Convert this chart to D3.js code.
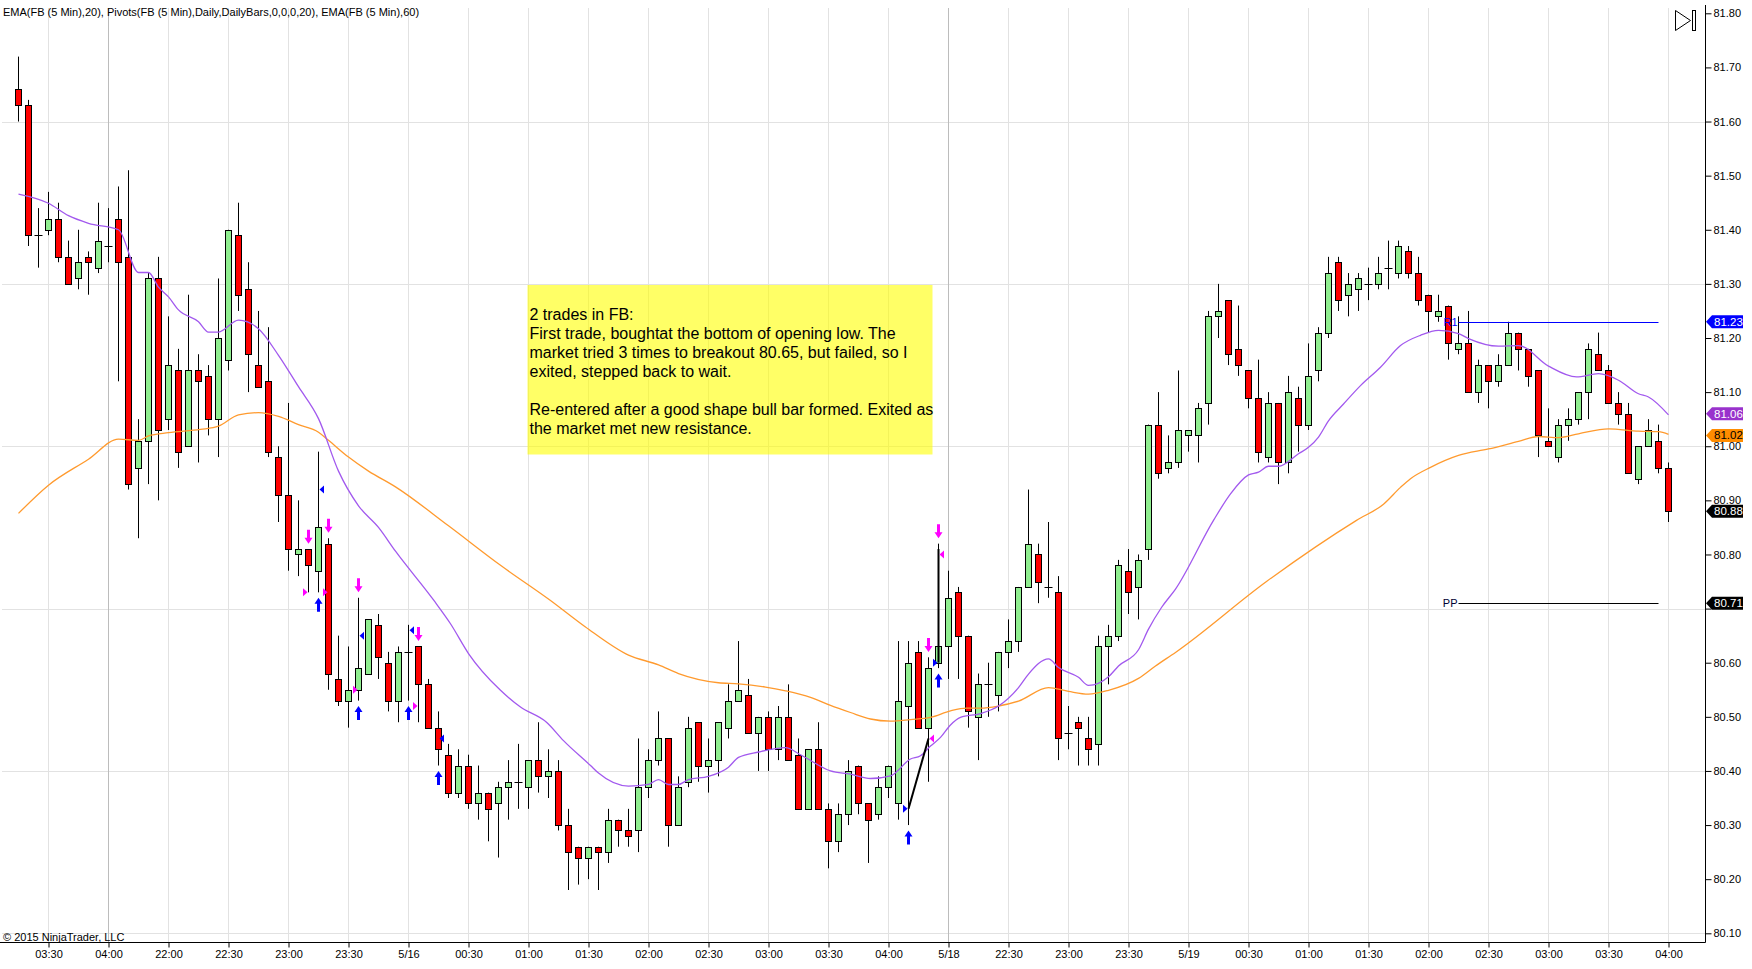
<!DOCTYPE html>
<html>
<head>
<meta charset="utf-8">
<script src="https://cdn.jsdelivr.net/npm/d3@7"></script>
<style>
  body { margin: 0; background: #fff; }
  svg { display: block; font-family: "Liberation Sans", Arial, sans-serif; }
</style>
</head>
<body>
<div id="chart"></div>
<script>
// ── FB 5 min candles, NinjaTrader style ──
const opens = [81.66,81.63,81.39,81.40,81.42,81.35,81.31,81.35,81.33,81.37,
  81.42,81.35,80.96,81.01,81.31,81.05,81.14,81.00,81.14,81.13,
  81.05,81.16,81.39,81.29,81.15,81.12,80.98,80.91,80.80,80.81,
  80.77,80.82,80.57,80.53,80.55,80.58,80.67,80.60,80.53,80.62,
  80.63,80.56,80.48,80.43,80.36,80.41,80.34,80.36,80.34,80.37,
  80.38,80.37,80.42,80.39,80.40,80.30,80.26,80.24,80.26,80.25,
  80.31,80.29,80.29,80.37,80.42,80.46,80.30,80.38,80.49,80.41,
  80.42,80.48,80.53,80.54,80.47,80.50,80.44,80.50,80.43,80.33,
  80.44,80.33,80.27,80.32,80.41,80.34,80.32,80.37,80.34,80.52,
  80.62,80.48,80.60,80.63,80.73,80.65,80.50,80.56,80.54,80.62,
  80.64,80.74,80.80,80.74,80.73,80.47,80.49,80.46,80.45,80.63,
  80.65,80.77,80.74,80.81,81.04,80.96,80.97,81.02,81.02,81.08,
  81.24,81.27,81.18,81.14,81.09,80.98,81.08,80.97,81.09,81.04,
  81.14,81.21,81.34,81.28,81.29,81.30,81.30,81.33,81.32,81.36,
  81.32,81.28,81.24,81.26,81.18,81.19,81.10,81.15,81.12,81.15,
  81.21,81.18,81.14,81.01,80.98,81.04,81.05,81.10,81.17,81.14,
  81.08,81.06,80.94,81.00,81.01,80.96];
const highs = [81.72,81.64,81.44,81.47,81.45,81.38,81.40,81.36,81.45,81.44,
  81.48,81.51,81.05,81.32,81.35,81.24,81.18,81.28,81.17,81.15,
  81.31,81.40,81.45,81.34,81.25,81.22,81.00,81.08,80.90,80.81,
  80.99,80.83,80.65,80.63,80.72,80.68,80.69,80.62,80.63,80.67,
  80.63,80.57,80.51,80.45,80.44,80.43,80.41,80.36,80.38,80.42,
  80.45,80.42,80.49,80.44,80.42,80.33,80.26,80.26,80.26,80.33,
  80.31,80.33,80.46,80.44,80.51,80.46,80.39,80.50,80.49,80.46,
  80.49,80.56,80.64,80.57,80.50,80.51,80.52,80.56,80.46,80.44,
  80.49,80.34,80.34,80.42,80.41,80.34,80.39,80.41,80.64,80.64,
  80.64,80.61,80.82,80.77,80.74,80.65,80.58,80.60,80.62,80.68,
  80.74,80.92,80.82,80.86,80.76,80.52,80.50,80.50,80.65,80.67,
  80.79,80.81,80.80,81.04,81.10,81.02,81.14,81.03,81.08,81.25,
  81.30,81.27,81.26,81.14,81.16,81.10,81.08,81.13,81.11,81.19,
  81.22,81.35,81.35,81.32,81.32,81.33,81.35,81.38,81.38,81.37,
  81.35,81.28,81.28,81.26,81.24,81.25,81.16,81.15,81.17,81.23,
  81.21,81.18,81.14,81.07,81.05,81.07,81.10,81.19,81.21,81.15,
  81.10,81.08,81.00,81.05,81.04,80.97];
const lows = [81.60,81.37,81.33,81.39,81.34,81.30,81.29,81.28,81.32,81.34,
  81.12,80.92,80.83,80.93,80.90,81.03,80.96,81.00,80.97,81.02,
  80.98,81.14,81.25,81.10,81.11,80.98,80.86,80.77,80.76,80.73,
  80.73,80.55,80.52,80.48,80.53,80.58,80.57,80.51,80.49,80.53,
  80.49,80.48,80.41,80.35,80.35,80.33,80.31,80.27,80.24,80.31,
  80.33,80.33,80.36,80.35,80.29,80.18,80.19,80.20,80.18,80.23,
  80.26,80.26,80.25,80.35,80.41,80.26,80.30,80.37,80.38,80.36,
  80.39,80.46,80.53,80.47,80.40,80.40,80.42,80.42,80.33,80.33,
  80.33,80.22,80.25,80.30,80.32,80.23,80.31,80.35,80.31,80.30,
  80.48,80.38,80.59,80.57,80.57,80.48,80.42,80.50,80.51,80.59,
  80.62,80.74,80.71,80.72,80.42,80.44,80.41,80.41,80.41,80.56,
  80.64,80.69,80.68,80.79,80.94,80.95,80.96,80.99,80.97,81.04,
  81.20,81.15,81.13,81.07,80.97,80.97,80.93,80.95,80.99,81.03,
  81.12,81.20,81.25,81.24,81.25,81.27,81.29,81.29,81.31,81.31,
  81.26,81.21,81.23,81.16,81.17,81.10,81.08,81.07,81.11,81.15,
  81.14,81.11,80.98,81.00,80.97,81.01,81.04,81.05,81.14,81.08,
  81.04,80.95,80.93,81.00,80.95,80.86];
const closes = [81.63,81.39,81.39,81.42,81.35,81.30,81.34,81.34,81.38,81.37,
  81.34,80.93,81.01,81.31,81.03,81.15,80.99,81.14,81.12,81.05,
  81.20,81.40,81.28,81.17,81.11,80.99,80.91,80.81,80.81,80.78,
  80.85,80.58,80.53,80.55,80.59,80.68,80.61,80.53,80.62,80.62,
  80.56,80.48,80.44,80.36,80.41,80.34,80.36,80.33,80.37,80.38,
  80.38,80.42,80.39,80.40,80.30,80.25,80.24,80.26,80.25,80.31,
  80.29,80.28,80.37,80.42,80.46,80.30,80.37,80.48,80.41,80.42,
  80.49,80.53,80.55,80.47,80.50,80.44,80.50,80.42,80.33,80.44,
  80.33,80.27,80.32,80.40,80.34,80.31,80.37,80.41,80.53,80.60,
  80.48,80.59,80.63,80.72,80.65,80.51,80.56,80.56,80.62,80.64,
  80.74,80.82,80.75,80.74,80.46,80.47,80.48,80.44,80.63,80.65,
  80.78,80.73,80.79,81.04,80.95,80.97,81.03,81.03,81.07,81.24,
  81.25,81.17,81.15,81.09,80.99,81.08,80.97,81.10,81.04,81.13,
  81.21,81.32,81.27,81.30,81.31,81.30,81.32,81.33,81.37,81.32,
  81.27,81.25,81.25,81.19,81.19,81.10,81.15,81.12,81.15,81.21,
  81.18,81.13,81.02,81.00,81.04,81.05,81.10,81.18,81.14,81.08,
  81.06,80.95,81.00,81.03,80.96,80.88];

// EMA(20) and EMA(60) at bar positions
const ema20Bars = [0,3,5,7,10,12,13,14,15,16,18,19,20,22,24,26,28,30,32,34,36,37.7,
  41.5,43.2,45,48.2,50.2,52.8,54.5,57.2,58,61,63,64,65,66,67,69,71,72,74,76.7,
  78.2,81.2,83.2,85.2,87.2,89.2,90.2,91.2,92.2,93.2,94.2,96.2,98,100,101,103,104,
  106,107,109,110,112,113,114.3,115.7,119.5,121.2,123,124,125,126,128,129,130,131,
  132.5,134.2,136.2,138.2,140.2,142,144,145,148,150,153,155.8,158,160,162,163,165];
const ema20Vals = [81.466,81.449,81.426,81.412,81.400,81.321,81.321,81.294,81.276,81.252,81.230,81.211,81.211,81.233,81.217,81.168,81.110,81.051,80.954,80.890,80.850,80.806,
  80.716,80.672,80.617,80.549,80.518,80.490,80.456,80.410,80.396,80.372,80.375,80.384,80.375,80.375,80.384,80.390,80.407,80.425,80.435,80.443,
  80.430,80.400,80.394,80.386,80.391,80.422,80.428,80.446,80.462,80.485,80.499,80.506,80.520,80.554,80.579,80.607,80.591,
  80.573,80.558,80.574,80.594,80.624,80.662,80.702,80.736,80.863,80.912,80.947,80.952,80.963,80.963,80.986,80.998,81.017,81.047,
  81.078,81.112,81.146,81.186,81.205,81.214,81.208,81.199,81.185,81.186,81.148,81.128,81.134,81.122,81.097,81.091,81.058];
const ema60Bars = [0,3,7,10,12,13,15,18.2,20,22,24,26,28,30,31,33,35,37.7,43,48.2,53.2,
  56.7,61,64,66,70,72,74.7,76.7,79.2,81.2,83.2,85.2,87.2,89.2,91.2,93.2,94.8,96.2,98,100,
  103,105,107,109,112,113.7,115.7,124.8,133.8,136.5,138.2,139.2,141.2,144,147,150,152,154,156,
  159,162,164,165];
const ema60Vals = [80.876,80.928,80.976,81.013,81.011,81.019,81.025,81.031,81.037,81.058,81.062,81.055,81.040,81.026,81.011,80.980,80.954,80.925,80.853,80.780,80.715,
  80.666,80.614,80.596,80.580,80.563,80.561,80.555,80.548,80.536,80.521,80.508,80.496,80.492,80.495,80.499,80.511,80.516,80.516,80.520,80.529,
  80.554,80.547,80.542,80.549,80.571,80.594,80.619,80.750,80.863,80.893,80.924,80.940,80.961,80.983,80.995,81.009,81.018,81.016,81.023,
  81.032,81.028,81.027,81.022];

// time axis labels (one every 6 bars, from bar 3)
const timeLabels = ["03:30","04:00","22:00","22:30","23:00","23:30","5/16","00:30","01:00","01:30",
  "02:00","02:30","03:00","03:30","04:00","5/18","22:30","23:00","23:30","5/19",
  "00:30","01:00","01:30","02:00","02:30","03:00","03:30","04:00"];
const sessionBreakTicks = [1, 15];

// pivots
const pivotNames = ["R1","PP"];
const pivotVals  = [81.23, 80.71];
const pivotFrom  = 144, pivotTo = 164;

// executions
const buyArrowBars    = [30, 34, 39, 42, 89, 92];
const buyArrowPrices  = [80.72, 80.52, 80.52, 80.40, 80.29, 80.58];
const sellArrowBars   = [29, 31, 34, 40, 91, 92];
const sellArrowPrices = [80.82, 80.84, 80.73, 80.64, 80.62, 80.83];
const buyFillBars     = [30, 34, 39, 42, 89, 92];
const buyFillPrices   = [80.92, 80.65, 80.66, 80.46, 80.33, 80.60];
const buyFillSide     = ["r","r","r","r","l","l"];
const sellFillBars    = [29, 31, 34, 40, 91, 92];
const sellFillPrices  = [80.73, 80.73, 80.55, 80.52, 80.46, 80.80];
const sellFillSide    = ["l","l","l","l","r","r"];
const tradeFromBars = [89, 92], tradeFromPrices = [80.33, 80.60];
const tradeToBars   = [91, 92], tradeToPrices   = [80.46, 80.81];

// right axis price markers
const markerVals = [81.23, 81.06, 81.02, 80.88, 80.71];

const noteLines = ["2 trades in FB:",
  "First trade, boughtat the bottom of opening low. The",
  "market tried 3 times to breakout 80.65, but failed, so I",
  "exited, stepped back to wait.",
  "",
  "Re-entered after a good shape bull bar formed. Exited as",
  "the market met new resistance."];

// ─────────────────────────────────────────────
const W = 1752, H = 969;
const axisX = 1705.5, axisY = 942.5;
const nBars = opens.length;

const svg = d3.select("#chart").append("svg")
  .attr("width", W).attr("height", H).attr("viewBox", `0 0 ${W} ${H}`);
svg.append("rect").attr("width", W).attr("height", H).attr("fill", "#fff");

const x = d3.scaleLinear().domain([0, nBars - 1]).range([18.5, 1668.5]);
const y = d3.scaleLinear().domain([80.10, 81.80]).range([933.3, 13.3]);
const py = v => Math.round(y(v)) + 0.5;

const tickBars = timeLabels.map((d, k) => 3 + 6 * k);
const gridPrices = [80.10, 80.40, 80.70, 81.00, 81.30, 81.60];
const priceTicks = d3.range(0, 18).map(k => +(80.10 + k * 0.1).toFixed(2));

// Gridlines
const grid = svg.append("g");
grid.selectAll("line.h").data(gridPrices).join("line").attr("class","h")
  .attr("x1", 2).attr("x2", axisX).attr("y1", d => py(d)).attr("y2", d => py(d))
  .attr("stroke", "#e2e2e2");
grid.selectAll("line.v").data(tickBars).join("line").attr("class","v")
  .attr("x1", d => x(d)).attr("x2", d => x(d)).attr("y1", 8).attr("y2", axisY)
  .attr("stroke", (d, k) => sessionBreakTicks.includes(k) ? "#bcbcbc" : "#e2e2e2");

// Note box (translucent yellow)
svg.append("rect").attr("x", 527.5).attr("y", 285).attr("width", 405).attr("height", 169.5)
  .attr("fill", "#ffff00").attr("fill-opacity", 0.6);
svg.append("g").selectAll("text").data(noteLines).join("text")
  .attr("x", 529.5).attr("y", (d, i) => 320 + i * 19)
  .style("font-size", "16px").style("fill", "#000")
  .text(d => d);

// Candles
const candles = svg.append("g");
const bars = d3.range(nBars);
candles.selectAll("line.wick").data(bars).join("line").attr("class","wick")
  .attr("x1", i => x(i)).attr("x2", i => x(i))
  .attr("y1", i => y(highs[i])).attr("y2", i => y(lows[i]))
  .attr("stroke", "#000").attr("stroke-width", 1);
candles.selectAll("rect.body").data(bars.filter(i => opens[i] !== closes[i])).join("rect").attr("class","body")
  .attr("x", i => x(i) - 3)
  .attr("y", i => py(Math.max(opens[i], closes[i])))
  .attr("width", 6)
  .attr("height", i => Math.max(1, py(Math.min(opens[i], closes[i])) - py(Math.max(opens[i], closes[i]))))
  .attr("fill", i => closes[i] > opens[i] ? "#90ee90" : "#ff0000")
  .attr("stroke", "#000").attr("stroke-width", 1);
candles.selectAll("line.doji").data(bars.filter(i => opens[i] === closes[i])).join("line").attr("class","doji")
  .attr("x1", i => x(i) - 4).attr("x2", i => x(i) + 4)
  .attr("y1", i => py(opens[i])).attr("y2", i => py(opens[i]))
  .attr("stroke", "#000").attr("stroke-width", 1);

// EMAs
const emaLine = d3.line().x(d => x(d[0])).y(d => y(d[1])).curve(d3.curveMonotoneX);
svg.append("path").datum(ema60Bars.map((b, k) => [b, ema60Vals[k]]))
  .attr("d", emaLine).attr("fill", "none").attr("stroke", "#ff9a2e").attr("stroke-width", 1.3);
svg.append("path").datum(ema20Bars.map((b, k) => [b, ema20Vals[k]]))
  .attr("d", emaLine).attr("fill", "none").attr("stroke", "#a259ee").attr("stroke-width", 1.3);

// Pivots
const pivColors = ["#0000ff", "#000000"];
const piv = svg.append("g");
piv.selectAll("line").data(pivotVals).join("line")
  .attr("x1", x(pivotFrom)).attr("x2", x(pivotTo))
  .attr("y1", d => py(d)).attr("y2", d => py(d))
  .attr("stroke", (d, k) => pivColors[k]);
piv.selectAll("text").data(pivotNames).join("text")
  .attr("x", x(pivotFrom) - 1).attr("y", (d, k) => y(pivotVals[k]) + 4)
  .attr("text-anchor", "end").style("font-size", "11px")
  .style("fill", (d, k) => k === 0 ? "#0000ff" : "#000033")
  .text(d => d);

// Trade connection lines
svg.append("g").selectAll("line").data(tradeFromBars).join("line")
  .attr("x1", (d, k) => x(d)).attr("y1", (d, k) => y(tradeFromPrices[k]))
  .attr("x2", (d, k) => x(tradeToBars[k])).attr("y2", (d, k) => y(tradeToPrices[k]))
  .attr("stroke", "#000").attr("stroke-width", 2);

// Arrows
const upArrow = (cx, ty) => `M${cx},${ty} L${cx+4},${ty+6} L${cx+1.5},${ty+6} L${cx+1.5},${ty+14} L${cx-1.5},${ty+14} L${cx-1.5},${ty+6} L${cx-4},${ty+6} Z`;
const downArrow = (cx, by) => `M${cx},${by} L${cx+4},${by-6} L${cx+1.5},${by-6} L${cx+1.5},${by-14} L${cx-1.5},${by-14} L${cx-1.5},${by-6} L${cx-4},${by-6} Z`;
const tri = (cx, cy, side) => side === "r"
  ? `M${cx+1},${cy} L${cx+5.5},${cy-4} L${cx+5.5},${cy+4} Z`
  : `M${cx-1},${cy} L${cx-5.5},${cy-4} L${cx-5.5},${cy+4} Z`;
const marks = svg.append("g");
marks.selectAll("path.buyA").data(buyArrowBars).join("path").attr("class","buyA")
  .attr("d", (d, k) => upArrow(x(d), y(buyArrowPrices[k]))).attr("fill", "#0000ff");
marks.selectAll("path.sellA").data(sellArrowBars).join("path").attr("class","sellA")
  .attr("d", (d, k) => downArrow(x(d), y(sellArrowPrices[k]))).attr("fill", "#ff00ff");
marks.selectAll("path.buyT").data(buyFillBars).join("path").attr("class","buyT")
  .attr("d", (d, k) => tri(x(d), y(buyFillPrices[k]), buyFillSide[k])).attr("fill", "#0000ff");
marks.selectAll("path.sellT").data(sellFillBars).join("path").attr("class","sellT")
  .attr("d", (d, k) => tri(x(d), y(sellFillPrices[k]), sellFillSide[k])).attr("fill", "#ff00ff");

// Axes (tick labels hidden behind a price marker are not drawn)
const yAxis = svg.append("g").attr("transform", `translate(${axisX},0)`)
  .call(d3.axisRight(y).tickValues(priceTicks).tickSize(6).tickSizeOuter(0).tickPadding(2).tickFormat(d3.format(".2f")));
yAxis.select(".domain").remove();
yAxis.selectAll("text").style("font-size", "11px").style("fill", "#000").attr("font-family", null)
  .filter(d => markerVals.some(m => Math.abs(y(m) - y(d)) < 8)).remove();
yAxis.selectAll("line").attr("stroke", "#000");

const xAxis = svg.append("g").attr("transform", `translate(0,${axisY})`)
  .call(d3.axisBottom(x).tickValues(tickBars).tickSize(5).tickSizeOuter(0).tickPadding(3)
    .tickFormat((d, k) => timeLabels[k]));
xAxis.select(".domain").remove();
xAxis.selectAll("text").style("font-size", "11px").style("fill", "#000").attr("font-family", null);
xAxis.selectAll("line").attr("stroke", "#000");

svg.append("line").attr("x1", axisX).attr("x2", axisX).attr("y1", 5).attr("y2", axisY).attr("stroke", "#000");
svg.append("line").attr("x1", 0).attr("x2", axisX).attr("y1", axisY).attr("y2", axisY).attr("stroke", "#000");

// Price markers on the axis
const markerFill = ["#0000ff", "#9932cc", "#ff8c00", "#000000", "#000000"];
const markerText = ["#fff", "#fff", "#000", "#fff", "#fff"];
const mk = svg.append("g").selectAll("g").data(markerVals).join("g")
  .attr("transform", d => `translate(0,${y(d)})`);
mk.append("path").attr("d", "M1706,0 L1712,-6.5 L1743,-6.5 L1743,6.5 L1712,6.5 Z")
  .attr("fill", (d, k) => markerFill[k]);
mk.append("text").attr("x", 1714).attr("y", 4).style("font-size", "11.5px")
  .style("fill", (d, k) => markerText[k]).text(d => d.toFixed(2));

// Header / footer text
svg.append("text").attr("x", 3).attr("y", 16).style("font-size", "11px").style("fill", "#000")
  .text("EMA(FB (5 Min),20), Pivots(FB (5 Min),Daily,DailyBars,0,0,0,20), EMA(FB (5 Min),60)");
svg.append("text").attr("x", 3).attr("y", 941).style("font-size", "11px").style("fill", "#000")
  .text("\u00a9 2015 NinjaTrader, LLC");

// "go to last bar" icon
svg.append("path").attr("d", "M1675.5,10.5 L1690.5,20.5 L1675.5,30.5 Z")
  .attr("fill", "none").attr("stroke", "#000");
svg.append("rect").attr("x", 1692.5).attr("y", 10.5).attr("width", 3).attr("height", 20)
  .attr("fill", "none").attr("stroke", "#000");
</script>
</body>
</html>
